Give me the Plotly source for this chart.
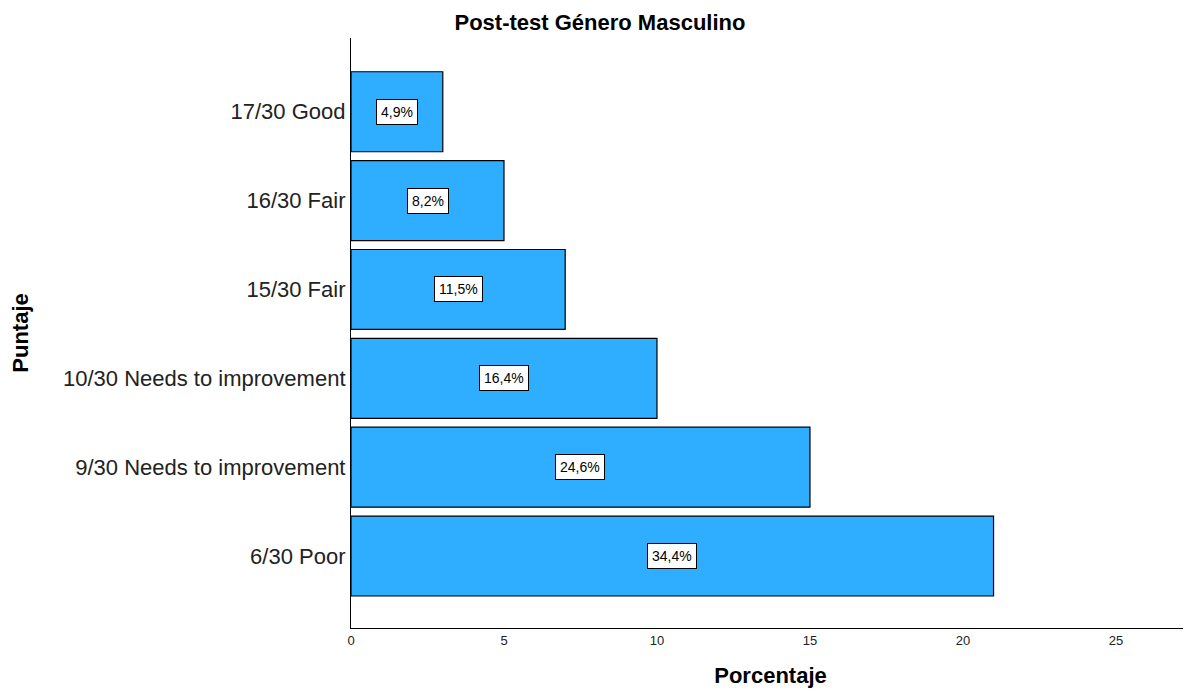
import plotly.graph_objects as go

categories = ["6/30 Poor", "9/30 Needs to improvement", "10/30 Needs to improvement",
              "15/30 Fair", "16/30 Fair", "17/30 Good"]
values = [21, 15, 10, 7, 5, 3]
pct_labels = ["34,4%", "24,6%", "16,4%", "11,5%", "8,2%", "4,9%"]

FONT = "Liberation Sans, Arial, sans-serif"

fig = go.Figure()
fig.add_trace(go.Bar(
    y=categories, x=values, orientation="h",
    marker=dict(color="#2FAEFF", line=dict(color="#000000", width=1.2)),
    width=0.9, hoverinfo="skip",
))

for c, v, t in zip(categories, values, pct_labels):
    fig.add_annotation(
        x=v / 2, y=c, text=t, showarrow=False,
        font=dict(family=FONT, size=14, color="#000000"),
        bgcolor="#FFFFFF", bordercolor="#000000", borderwidth=1, borderpad=4,
    )

# page body adds an 8px offset; figure sized so the plot lands where the reference has it
fig.update_layout(
    width=1183, height=692,
    margin=dict(l=343, r=1, t=30, b=72),
    paper_bgcolor="#FFFFFF", plot_bgcolor="#FFFFFF",
    showlegend=False,
    title=dict(text="<b>Post-test Género Masculino</b>", x=0.5004, xanchor="center",
               y=0.980, yanchor="middle",
               font=dict(family=FONT, size=22, color="#000000")),
    xaxis=dict(range=[0, 27.42], tickvals=[0, 5, 10, 15, 20, 25], automargin=False,
               showgrid=False, zeroline=False, showline=True, linecolor="#000000",
               linewidth=1.2, ticks="", ticklen=0,
               tickfont=dict(family=FONT, size=13, color="#222222"),
               title=dict(text="<b>Porcentaje</b>", standoff=20,
                          font=dict(family=FONT, size=22, color="#000000"))),
    yaxis=dict(type="category", categoryorder="array", categoryarray=categories,
               range=[-0.81, 5.83], showgrid=False, zeroline=False, showline=True,
               automargin=False,
               linecolor="#000000", linewidth=1.2, ticks="", ticklen=0,
               tickfont=dict(family=FONT, size=22, color="#222222"),
               title=dict(text="<b>Puntaje</b>", standoff=30,
                          font=dict(family=FONT, size=22, color="#000000"))),
)

fig.write_html("out.html")
